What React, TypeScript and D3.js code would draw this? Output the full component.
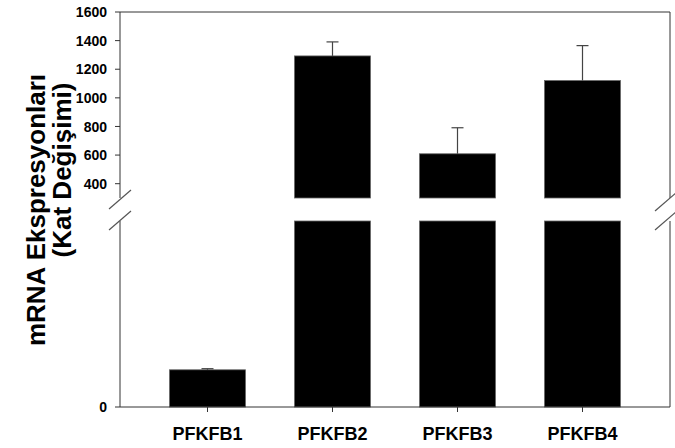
import * as d3 from 'd3';

const CATEGORIES = ['PFKFB1', 'PFKFB2', 'PFKFB3', 'PFKFB4'];
const MEANS = [1.0, 1293, 609, 1121];
const ERRORS = [0.03, 98, 182, 244];
const UPPER_TICKS = [400, 600, 800, 1000, 1200, 1400, 1600];
const LOWER_TICKS = [0];
const Y_TITLE = ['mRNA Ekspresyonları', '(Kat Değişimi)'];

const W = 675;
const H = 448;
const left = 120;
const right = 670;
const FONT = 'Arial, "Liberation Sans", sans-serif';
const AXIS = '#333';

export default function App() {
  const x = d3.scaleBand<string>().domain(CATEGORIES).range([left, right])
    .paddingInner(0.392).paddingOuter(0.396);

  // broken y axis: two segments
  const yUp = d3.scaleLinear().domain([300, 1600]).range([198, 12]);
  const yLow = d3.scaleLinear().domain([0, 5]).range([407, 221]);
  const upTop = yUp.range()[1];
  const upBot = yUp.range()[0];
  const lowTop = yLow.range()[1];
  const lowBot = yLow.range()[0];

  const bw = x.bandwidth();

  const brk = (cx: number, cy: number, k: number) => (
    <line key={`${k}-${cx}-${cy}`} x1={cx - 11} y1={cy + 10} x2={cx + 11} y2={cy - 9}
      stroke="#555" strokeWidth={1.2} />
  );

  return (
    <svg width={W} height={H} style={{ position: 'absolute', left: 0, top: 0, background: '#fff' }}
      fontFamily={FONT}>
      {/* bars, lower segment */}
      {CATEGORIES.map((c, i) => {
        const top = yLow(Math.min(MEANS[i], yLow.domain()[1]));
        return (
          <rect key={`lo-${c}`} x={x(c)} y={top} width={bw} height={lowBot - top}
            fill="#000" stroke="#666" strokeWidth={0.8} />
        );
      })}
      {/* bars, upper segment */}
      {CATEGORIES.map((c, i) => {
        if (MEANS[i] <= yUp.domain()[0]) return null;
        const top = yUp(MEANS[i]);
        return (
          <rect key={`up-${c}`} x={x(c)} y={top} width={bw} height={upBot - top}
            fill="#000" stroke="#666" strokeWidth={0.8} />
        );
      })}
      {/* error bars */}
      {CATEGORIES.map((c, i) => {
        const sc = MEANS[i] > yUp.domain()[0] ? yUp : yLow;
        const cx = (x(c) ?? 0) + bw / 2;
        const y0 = sc(MEANS[i]);
        const y1 = sc(MEANS[i] + ERRORS[i]);
        return (
          <g key={`err-${c}`} stroke="#444" strokeWidth={1.2}>
            <line x1={cx} x2={cx} y1={y0} y2={y1} />
            <line x1={cx - 6} x2={cx + 6} y1={y1} y2={y1} />
          </g>
        );
      })}

      {/* frame */}
      <g stroke={AXIS} strokeWidth={1} fill="none">
        <line x1={left} x2={right} y1={upTop} y2={upTop} />
        <line x1={left} x2={right} y1={lowBot} y2={lowBot} />
        <line x1={left} x2={left} y1={upTop} y2={upBot} />
        <line x1={left} x2={left} y1={lowTop} y2={lowBot} />
        <line x1={right} x2={right} y1={upTop} y2={upBot} />
        <line x1={right} x2={right} y1={lowTop} y2={lowBot} />
      </g>
      {brk(left, upBot + 1, 0)}
      {brk(left, lowTop - 1, 1)}
      {brk(right - 4, upBot + 3, 2)}
      {brk(right - 4, lowTop - 1, 3)}

      {/* y ticks */}
      {UPPER_TICKS.map(t => (
        <g key={`yu-${t}`}>
          <line x1={left - 5} x2={left} y1={yUp(t)} y2={yUp(t)} stroke={AXIS} />
          <text x={107} y={yUp(t)} dy="0.36em" textAnchor="end" fontSize={14} fontWeight="bold">{t}</text>
        </g>
      ))}
      {LOWER_TICKS.map(t => (
        <g key={`yl-${t}`}>
          <line x1={left - 5} x2={left} y1={yLow(t)} y2={yLow(t)} stroke={AXIS} />
          <text x={107} y={yLow(t)} dy="0.36em" textAnchor="end" fontSize={14} fontWeight="bold">{t}</text>
        </g>
      ))}

      {/* x ticks and labels */}
      {CATEGORIES.map(c => {
        const cx = (x(c) ?? 0) + bw / 2;
        return (
          <g key={`x-${c}`}>
            <line x1={cx} x2={cx} y1={lowBot} y2={lowBot + 5} stroke={AXIS} />
            <text x={cx} y={440} textAnchor="middle" fontSize={18} fontWeight="bold">{c}</text>
          </g>
        );
      })}

      {/* y title */}
      <text transform="translate(45,210) rotate(-90)" textAnchor="middle" fontSize={26} fontWeight="bold">{Y_TITLE[0]}</text>
      <text transform="translate(71,170) rotate(-90)" textAnchor="middle" fontSize={26} fontWeight="bold">{Y_TITLE[1]}</text>
    </svg>
  );
}
